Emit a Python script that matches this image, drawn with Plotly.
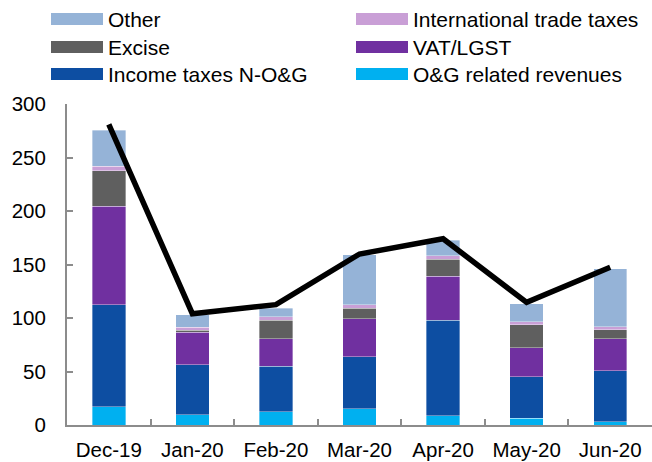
import plotly.graph_objects as go

categories = ["Dec-19", "Jan-20", "Feb-20", "Mar-20", "Apr-20", "May-20", "Jun-20"]

og_related = [17.1, 9.7, 12.5, 15.3, 8.7, 6.5, 3.1]
income_taxes = [95.4, 46.4, 42.6, 48.3, 89.4, 38.4, 47.4]
vat_lgst = [91.9, 30.5, 25.3, 35.8, 40.8, 27.4, 29.9]
excise = [33.0, 1.9, 17.4, 9.9, 15.9, 21.5, 8.7]
intl_trade = [4.3, 2.8, 3.2, 3.2, 3.5, 2.5, 2.5]
other = [34.0, 11.8, 8.3, 46.7, 14.6, 17.1, 54.5]

total_line = [281, 104, 112.5, 159.8, 174.1, 114.6, 147.4]

series_names = ["O&G related revenues", "Income taxes N-O&G", "VAT/LGST",
                "Excise", "International trade taxes", "Other"]
series_values = [og_related, income_taxes, vat_lgst, excise, intl_trade, other]
series_colors = ["#00B0F0", "#0D4EA2", "#7030A0", "#5F5F5F", "#C99FD6", "#95B3D7"]

y_ticks = [0, 50, 100, 150, 200, 250, 300]

W, H = 652, 462
L, R, T, B = 67, 0, 104, 37
pw, ph = W - L - R, H - T - B

fig = go.Figure()
for name, vals, col in zip(series_names, series_values, series_colors):
    fig.add_trace(go.Bar(x=categories, y=vals, name=name, marker_color=col,
                         marker_line=dict(color="rgba(255,255,255,0.6)", width=0.6),
                         showlegend=False))

fig.add_trace(go.Scatter(x=categories, y=total_line, mode="lines",
                         line=dict(color="black", width=5.5), showlegend=False))

def px2x(px):
    return (px - L) / pw

def py2y(py):
    return (H - B - py) / ph

# manual legend: two columns, three rows (Other/Intl, Excise/VAT, Income/O&G)
legend_order = [5, 4, 3, 2, 1, 0]
col_sw = [51, 356]
row_y = [19, 47, 74]
shapes = []
annotations = []
for k, idx in enumerate(legend_order):
    r, c = k // 2, k % 2
    x0 = col_sw[c]
    yc = row_y[r]
    shapes.append(dict(type="rect", xref="paper", yref="paper",
                       x0=px2x(x0), x1=px2x(x0 + 52),
                       y0=py2y(yc + 6), y1=py2y(yc - 6),
                       fillcolor=series_colors[idx], line=dict(width=0)))
    annotations.append(dict(xref="paper", yref="paper", x=px2x(x0 + 55), y=py2y(yc),
                            xanchor="left", yanchor="middle", showarrow=False,
                            text=series_names[idx],
                            font=dict(size=21, color="black", family="Liberation Sans, Arial")))

fig.update_layout(
    width=W, height=H,
    margin=dict(l=L, r=R, t=T, b=B, pad=0),
    barmode="stack", bargap=0.6,
    plot_bgcolor="white", paper_bgcolor="white",
    font=dict(family="Liberation Sans, Arial", size=20.5, color="black"),
    shapes=shapes, annotations=annotations,
    xaxis=dict(showline=True, linecolor="#8C8C8C", linewidth=2, automargin=False,
               ticks="inside", tickson="boundaries", ticklen=6, tickcolor="#8C8C8C",
               tickwidth=2, showgrid=False, ticklabelstandoff=5),
    yaxis=dict(range=[0, 300], tickvals=y_ticks, showline=True, linecolor="#8C8C8C",
               linewidth=2, ticks="inside", ticklen=6, tickcolor="#8C8C8C", tickwidth=2,
               showgrid=False, zeroline=False, ticklabelstandoff=15, automargin=False),
)

fig.write_html("out.html", config={"displayModeBar": False},
               post_script="document.body.style.margin='0';document.body.style.overflow='hidden';")
